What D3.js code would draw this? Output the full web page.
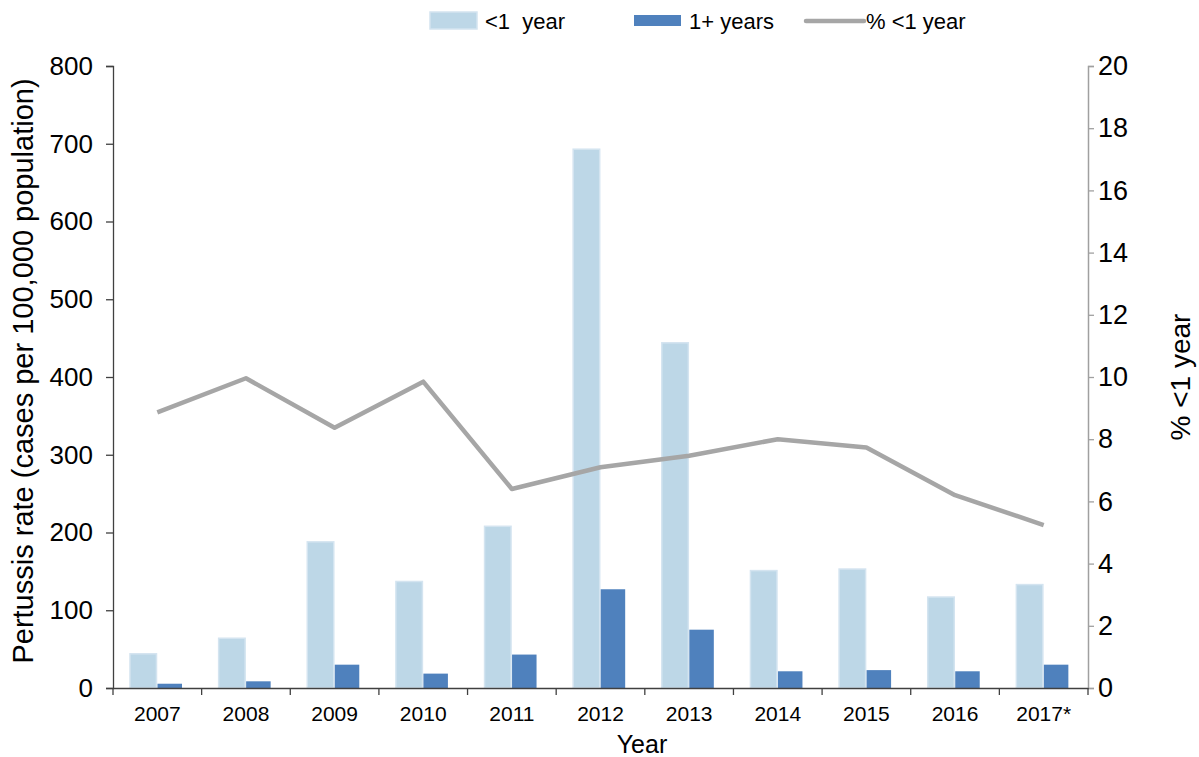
<!DOCTYPE html>
<head>
    <title>Pertussis rate</title>
    <script src='https://cdn.jsdelivr.net/npm/d3@7'></script>
    <style>
        body { margin: 0; background: white; font-family: 'Liberation Sans', Arial, sans-serif; }
        text { fill: #000; }
    </style>
</head>
<body>
<script>
//DATA
var years = ['2007','2008','2009','2010','2011','2012','2013','2014','2015','2016','2017*'];
var under1 = [44, 64, 188, 137, 208, 693, 444, 151, 153, 117, 133];
var over1 = [5.5, 8.6, 30, 18.5, 43, 127, 75, 21.5, 23, 21.5, 30];
var pctUnder1 = [8.86, 9.96, 8.37, 9.85, 6.4, 7.1, 7.47, 8.0, 7.73, 6.2, 5.24];
var leftTicks = [0,100,200,300,400,500,600,700,800];
var rightTicks = [0,2,4,6,8,10,12,14,16,18,20];

var W = 1199, H = 757;
var m = {l: 113, r: 1088, t: 66, b: 688};

var svg = d3.select('body').append('svg')
    .attr('width', W).attr('height', H);

//SCALES
var x = d3.scaleBand().domain(years).range([m.l, m.r]);
var x1 = d3.scaleBand().domain(['u','o']).range([17, 70]);
var y = d3.scaleLinear().domain([0, 800]).range([m.b, m.t]);
var y2 = d3.scaleLinear().domain([0, 20]).range([m.b, m.t]);

//BARS
svg.selectAll('.u').data(years).enter().append('rect')
    .attr('class','u')
    .attr('x', d => x(d) + x1('u'))
    .attr('width', x1.bandwidth())
    .attr('y', (d,i) => y(under1[i]))
    .attr('height', (d,i) => y(0) - y(under1[i]))
    .attr('fill', '#bdd7e7')
    .attr('stroke', '#d4e4f0').attr('stroke-width', 1.5);

svg.selectAll('.o').data(years).enter().append('rect')
    .attr('class','o')
    .attr('x', d => x(d) + x1('o') + 1)
    .attr('width', x1.bandwidth() - 2)
    .attr('y', (d,i) => y(over1[i]))
    .attr('height', (d,i) => y(0) - y(over1[i]))
    .attr('fill', '#4f81bd');

//LINE
var line = d3.line()
    .x((d,i) => x(years[i]) + x.bandwidth()/2)
    .y(d => y2(d));

svg.append('path').datum(pctUnder1)
    .attr('d', line)
    .attr('fill','none')
    .attr('stroke','#a6a6a6')
    .attr('stroke-width', 4.5)
    .attr('stroke-linejoin','round');

//AXES
var yAxis = svg.append('g')
    .attr('transform','translate(' + m.l + ',0)')
    .call(d3.axisLeft(y).tickValues(leftTicks).tickSize(7).tickPadding(13));
yAxis.select('.domain').attr('stroke','#404040').attr('stroke-width',1.3);
yAxis.selectAll('line').attr('stroke','#404040').attr('stroke-width',1.3);
yAxis.selectAll('text').attr('font-size', 26).attr('font-family','Liberation Sans, Arial').attr('fill','#000');

var y2Axis = svg.append('g')
    .attr('transform','translate(' + m.r + ',0)')
    .call(d3.axisRight(y2).tickValues(rightTicks).tickSize(6).tickPadding(4));
y2Axis.select('.domain').attr('stroke','#a0a0a0').attr('stroke-width',1.5);
y2Axis.selectAll('line').attr('stroke','#a0a0a0').attr('stroke-width',1.3);
y2Axis.selectAll('text').attr('font-size', 27).attr('font-family','Liberation Sans, Arial').attr('fill','#000');

var xAxis = svg.append('g')
    .attr('transform','translate(0,' + m.b + ')')
    .call(d3.axisBottom(x).tickSize(0).tickPadding(18));
xAxis.select('.domain').attr('stroke','#404040').attr('stroke-width',1.3);
xAxis.selectAll('text').attr('font-size', 21).attr('font-family','Liberation Sans, Arial').attr('fill','#1a1a1a');

// category boundary ticks
var bounds = years.map(d => x(d)).concat([m.r]);
svg.selectAll('.bt').data(bounds).enter().append('line')
    .attr('x1', d => d).attr('x2', d => d)
    .attr('y1', m.b).attr('y2', m.b + 7)
    .attr('stroke','#404040').attr('stroke-width',1.3);

//TITLES
svg.append('text')
    .attr('transform','translate(33,371) rotate(-90)')
    .attr('text-anchor','middle')
    .attr('font-size', 29)
    .text('Pertussis rate (cases per 100,000 population)');

svg.append('text')
    .attr('transform','translate(1190,377) rotate(-90)')
    .attr('text-anchor','middle')
    .attr('font-size', 28)
    .text('% <1 year');

svg.append('text')
    .attr('x', 642).attr('y', 753)
    .attr('text-anchor','middle')
    .attr('font-size', 25)
    .text('Year');

//LEGEND
var lg = svg.append('g').attr('font-size', 22);
lg.append('rect').attr('x',430).attr('y',12).attr('width',47).attr('height',17)
    .attr('fill','#bdd7e7').attr('stroke','#d4e4f0').attr('stroke-width',1.5);
lg.append('text').attr('x',485).attr('y',29).attr('xml:space','preserve').text('<1  year');
lg.append('rect').attr('x',634).attr('y',15).attr('width',47).attr('height',11)
    .attr('fill','#4f81bd');
lg.append('text').attr('x',689).attr('y',29).text('1+ years');
lg.append('line').attr('x1',806).attr('x2',864).attr('y1',21).attr('y2',21)
    .attr('stroke','#a6a6a6').attr('stroke-width',4.5).attr('stroke-linecap','round');
lg.append('text').attr('x',866).attr('y',29).text('% <1 year');
</script>
</body>
